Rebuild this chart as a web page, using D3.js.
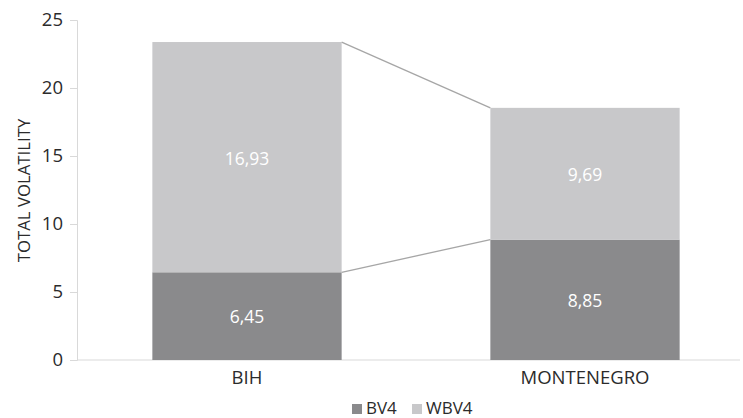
<!DOCTYPE html>
<html><head><meta charset="utf-8">
<script src="https://cdn.jsdelivr.net/npm/d3@7"></script>
<style>body{margin:0;background:#fff}svg{display:block}text{font-family:"Open Sans","Liberation Sans",sans-serif}</style>
</head><body><svg id="c" width="743" height="418"></svg>
<script>
const categories = ["BIH", "MONTENEGRO"];
const bv4 = [6.45, 8.85];
const wbv4 = [16.93, 9.69];
const seriesNames = ["BV4", "WBV4"];
const yTicks = [0, 5, 10, 15, 20, 25];
const colors = {BV4: "#8a8a8c", WBV4: "#c8c8ca"};

const svg = d3.select("#c");
const y = d3.scaleLinear().domain([0, 25]).range([360, 20]);
const x = d3.scaleBand().domain(categories).range([78, 754]).paddingInner(0.44).paddingOuter(0.22);

const data = categories.map((c, i) => ({cat: c, BV4: bv4[i], WBV4: wbv4[i]}));
const stack = d3.stack().keys(seriesNames)(data);

// y axis
const yAxis = d3.axisLeft(y).tickValues(yTicks).tickSize(7).tickPadding(7).tickFormat(d3.format("d"));
const ya = svg.append("g").attr("transform", "translate(77,0)").call(yAxis);
ya.select(".domain").attr("stroke", "#d9d9d9");
ya.selectAll(".tick line").attr("stroke", "#d9d9d9");
ya.selectAll(".tick text").attr("fill", "#2b2b2b").attr("font-size", 18.5).attr("font-family", "'Open Sans', sans-serif");

// baseline
svg.append("line").attr("x1", 77).attr("x2", 740).attr("y1", y(0)).attr("y2", y(0)).attr("stroke", "#d9d9d9").attr("stroke-width", 1.2);

// bars
stack.forEach(s => {
  svg.append("g").selectAll("rect").data(s).join("rect")
    .attr("x", d => x(d.data.cat)).attr("width", x.bandwidth())
    .attr("y", d => y(d[1])).attr("height", d => y(d[0]) - y(d[1]))
    .attr("fill", colors[s.key]);
});

// series lines
stack.forEach(s => {
  for (let i = 0; i < s.length - 1; i++) {
    svg.append("line")
      .attr("x1", x(s[i].data.cat) + x.bandwidth()).attr("y1", y(s[i][1]))
      .attr("x2", x(s[i + 1].data.cat)).attr("y2", y(s[i + 1][1]))
      .attr("stroke", "#a6a6a6").attr("stroke-width", 1.3);
  }
});

// labels
const fmt = v => v.toFixed(2).replace(".", ",");
stack.forEach(s => {
  svg.append("g").selectAll("text").data(s).join("text")
    .attr("x", d => x(d.data.cat) + x.bandwidth() / 2)
    .attr("y", d => (y(d[0]) + y(d[1])) / 2)
    .attr("dy", "0.42em").attr("text-anchor", "middle")
    .attr("fill", "#fff").attr("font-size", 17.5)
    .text(d => fmt(d[1] - d[0]));
});

// x labels
svg.append("g").selectAll("text").data(categories).join("text")
  .attr("x", d => x(d) + x.bandwidth() / 2).attr("y", 378).attr("dy", "0.35em")
  .attr("text-anchor", "middle").attr("fill", "#2b2b2b").attr("font-size", 18.5).text(d => d);

// axis title
svg.append("text").attr("transform", "translate(24,190.5) rotate(-90)")
  .attr("text-anchor", "middle").attr("dy", "0.35em").attr("fill", "#2b2b2b").attr("font-size", 16.8)
  .attr("font-family", "'Liberation Sans', Arial, sans-serif")
  .text("TOTAL VOLATILITY");

// legend
const leg = svg.append("g");
const legX = [352, 412];
seriesNames.forEach((n, i) => {
  leg.append("rect").attr("x", legX[i]).attr("y", 404).attr("width", 10).attr("height", 10).attr("fill", colors[n]);
  leg.append("text").attr("x", legX[i] + 14).attr("y", 414).attr("fill", "#2b2b2b").attr("font-size", 17).text(n);
});
</script></body></html>
